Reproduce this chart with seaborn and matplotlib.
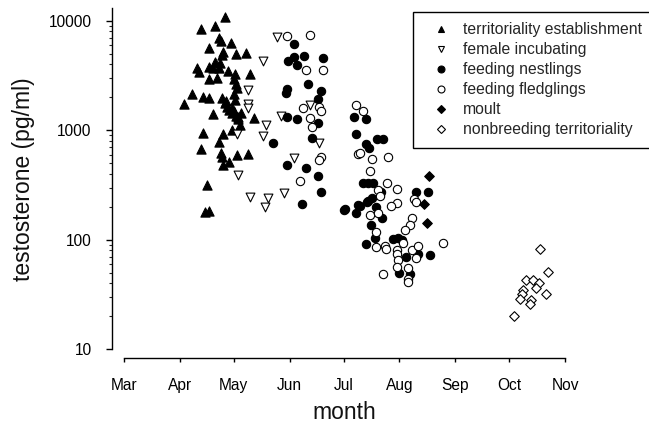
import matplotlib
matplotlib.use("Agg")
import matplotlib.pyplot as plt
import numpy as np
import pandas as pd
import seaborn as sns
from matplotlib.lines import Line2D
from matplotlib.ticker import LogLocator, NullFormatter, FixedLocator, FixedFormatter

# ---------------- data (day of year, testosterone pg/ml) ----------------
months = ["Mar", "Apr", "May", "Jun", "Jul", "Aug", "Sep", "Oct", "Nov"]
month_days = [60, 91, 121, 152, 182, 213, 244, 274, 305]
y_ticks = [10, 100, 1000, 10000]
y_ticklabels = ["10", "100", "1000", "10000"]

terr_day = [116.1, 102.8, 110.6, 112.9, 113.9, 119.3, 107.2, 115.0, 114.4, 122.4,
            127.8, 110.7, 113.3, 100.7, 101.8, 107.4, 109.6, 112.8, 117.8, 121.5,
            130.0, 107.4, 111.8, 121.3, 122.2, 122.9, 97.6, 93.2, 103.7, 107.2,
            121.1, 114.6, 121.7, 116.1, 117.4, 118.5, 119.8, 122.2, 124.8, 109.3,
            132.2, 123.5, 124.4, 119.8, 104.1, 114.8, 112.9, 102.8, 113.9, 114.3,
            122.6, 128.7, 118.3, 115.2, 106.3, 105.2, 107.4, 116.9, 120.0, 121.1, 123.6]
terr_t = [10740, 8340, 9000, 6910, 6530, 6300, 5600, 5210, 4860, 4960,
          5110, 4220, 4130, 3670, 3420, 3800, 3720, 3720, 3470, 3260,
          3260, 2920, 2980, 2920, 2640, 2440, 2140, 1730, 2020, 1980,
          2130, 1960, 1890, 1760, 1640, 1530, 1430, 1350, 1430, 1400,
          1290, 1260, 1120, 1000, 950, 920, 785, 670, 615, 573,
          594, 607, 515, 481, 316, 180, 183, 1830, 1580, 1500, 1310]

incub_day = [137.4, 128.7, 128.7, 128.7, 138.7, 137.4, 122.6, 123.5, 130.0, 139.8,
             138.3, 144.8, 147.1, 163.3, 168.5, 154.4, 149.1]
incub_t = [4280, 2330, 1730, 1590, 1120, 885, 920, 390, 244, 242,
           200, 7140, 1355, 1700, 758, 561, 268]

nest_day = [154.6, 151.3, 154.6, 155.9, 160.2, 170.7, 162.1, 149.8, 150.4, 169.4,
            167.6, 150.4, 155.9, 167.6, 187.9, 164.3, 188.9, 142.9, 150.4, 161.1,
            167.6, 169.4, 158.7, 182.8, 190.2, 194.3, 200.7, 204.1, 194.3, 196.3,
            193.0, 195.4, 198.5, 202.8, 222.2, 228.7, 197.6, 195.7, 194.8, 191.1,
            188.9, 182.2, 199.8, 203.2, 197.1, 199.4, 209.6, 212.1, 214.3, 194.3,
            216.7, 223.5, 230.0, 212.8, 218.9]
nest_t = [6130, 4280, 4690, 3930, 4790, 4540, 2640, 2200, 2360, 2280,
          1910, 1310, 1260, 1170, 1330, 843, 918, 758, 481, 449,
          382, 271, 212, 191, 207, 1260, 826, 826, 743, 692,
          332, 332, 332, 274, 274, 271, 239, 225, 222, 205,
          174, 187, 198, 157, 136, 104, 101, 103, 99, 91,
          70, 74, 72, 50, 49]

fledg_day = [150.4, 163.3, 161.1, 170.7, 159.6, 168.3, 169.4, 163.3, 164.3, 188.7,
             169.4, 168.3, 157.8, 190.2, 193.0, 191.1, 197.6, 206.5, 196.7, 206.3,
             201.0, 202.2, 211.5, 221.3, 222.2, 211.5, 208.3, 196.7, 201.0, 220.2,
             218.9, 216.1, 199.8, 214.8, 199.8, 205.0, 205.4, 211.5, 211.8, 220.2,
             223.5, 222.2, 237.4, 212.4, 211.5, 217.9, 204.1, 217.9, 217.9]
fledg_t = [7240, 7400, 3550, 3550, 1600, 1620, 1500, 1290, 1080, 1700,
           573, 535, 344, 603, 1500, 615, 542, 573, 427, 332,
           285, 251, 289, 234, 222, 215, 203, 168, 174, 157,
           136, 124, 118, 94, 85, 88, 83, 80, 74, 80,
           88, 68, 93, 65, 57, 55, 49, 44, 41]

moult_day = [229.4, 226.8, 228.5]
moult_t = [385, 210, 143]

nonbr_day = [291.1, 295.7, 283.3, 287.4, 290.7, 288.7, 281.8, 280.9, 280.0, 294.4,
             286.1, 285.6, 276.8]
nonbr_t = [83, 51, 43, 43, 40, 36, 35, 32, 29, 32, 28, 26, 20]

groups = ["territoriality establishment", "female incubating", "feeding nestlings",
          "feeding fledglings", "moult", "nonbreeding territoriality"]
days = [terr_day, incub_day, nest_day, fledg_day, moult_day, nonbr_day]
vals = [terr_t, incub_t, nest_t, fledg_t, moult_t, nonbr_t]

df = pd.concat([pd.DataFrame({"day": d, "t": v, "group": g})
                for d, v, g in zip(days, vals, groups)], ignore_index=True)

# ---------------- styles ----------------
styles = {
    "territoriality establishment": dict(marker="^", face="black", s=44),
    "female incubating": dict(marker="v", face="white", s=40),
    "feeding nestlings": dict(marker="o", face="black", s=36),
    "feeding fledglings": dict(marker="o", face="white", s=36),
    "moult": dict(marker="D", face="black", s=24),
    "nonbreeding territoriality": dict(marker="D", face="white", s=24),
}

sns.set_style("ticks")
plt.rcParams["font.family"] = ["Liberation Sans", "DejaVu Sans"]

W, H = 649, 432
fig = plt.figure(figsize=(W / 100, H / 100), dpi=100)
left, right, top, bottom = 124, 565, 8.3, 349.3
ax = fig.add_axes([left / W, 1 - bottom / H, (right - left) / W, (bottom - top) / H])

for g in groups:
    st = styles[g]
    sub = df[df["group"] == g]
    sns.scatterplot(data=sub, x="day", y="t", ax=ax, marker=st["marker"],
                    color=st["face"], edgecolor="black", linewidth=0.8,
                    s=st["s"], legend=False, zorder=3)

ax.set_yscale("log")
ax.set_xlim(month_days[0], month_days[-1])
ax.set_ylim(10, 12980)

ax.xaxis.set_major_locator(FixedLocator(month_days))
ax.xaxis.set_major_formatter(FixedFormatter(months))
ax.yaxis.set_major_locator(FixedLocator(y_ticks))
ax.yaxis.set_major_formatter(FixedFormatter(y_ticklabels))
ax.yaxis.set_minor_locator(LogLocator(base=10, subs=np.arange(2, 10)))
ax.yaxis.set_minor_formatter(NullFormatter())

for side in ["top", "right"]:
    ax.spines[side].set_visible(False)
ax.spines["left"].set_position(("outward", 8.4))
ax.spines["bottom"].set_position(("outward", 6.5))
for side in ["left", "bottom"]:
    ax.spines[side].set_linewidth(1.0)
    ax.spines[side].set_color("black")

ax.tick_params(axis="y", which="major", direction="out", length=4.5, width=1.0,
               labelsize=11.2, pad=10.5, colors="black")
ax.tick_params(axis="y", which="minor", direction="out", length=2.5, width=0.8)
ax.tick_params(axis="x", which="major", direction="out", length=3, width=1.0,
               labelsize=11.2, pad=11, colors="black")

ax.set_xlabel("month", fontsize=16.5, labelpad=6, color="#111111")
ax.set_ylabel("testosterone (pg/ml)", fontsize=16.5, labelpad=10, color="#111111")

handles = [Line2D([], [], linestyle="", marker=styles[g]["marker"],
                  markerfacecolor=styles[g]["face"], markeredgecolor="black",
                  markeredgewidth=0.8, markersize=5 if styles[g]["marker"] != "D" else 4.2)
           for g in groups]
leg = ax.legend(handles, groups, loc="upper left",
                bbox_to_anchor=(413 / W, 1 - 12 / H), bbox_transform=fig.transFigure,
                frameon=True, fancybox=False, framealpha=1, edgecolor="black",
                fontsize=11.3, handlelength=2.3, handletextpad=0.25,
                borderpad=0.65, labelspacing=0.32, borderaxespad=0)
leg.get_frame().set_linewidth(1.0)

fig.savefig("out.png", dpi=100)
